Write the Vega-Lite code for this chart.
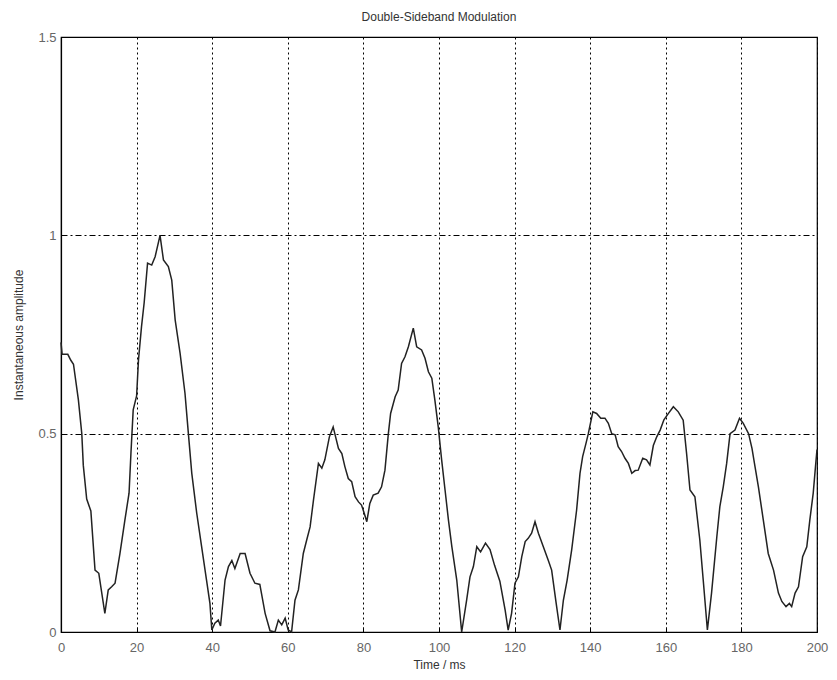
{
  "$schema": "https://vega.github.io/schema/vega-lite/v6.json",
  "autosize": {"type": "none"},
  "padding": {"left": 61, "top": 37, "right": 20, "bottom": 48},
  "width": 756,
  "height": 595,
  "background": "white",
  "title": {"text": "Double-Sideband Modulation", "fontSize": 12, "font": "Liberation Sans", "fontWeight": "normal", "color": "#333", "offset": 7, "anchor": "middle"},
  "config": {
    "view": {"stroke": "black", "strokeWidth": 1.2},
    "axis": {"labelFont": "Liberation Sans", "titleFont": "Liberation Sans", "labelFontSize": 13, "titleFontSize": 12, "titleFontWeight": "normal", "labelColor": "#666", "titleColor": "#333", "domainColor": "black", "domainWidth": 1.2, "tickColor": "black", "gridColor": "black", "gridOpacity": 1, "gridWidth": 1}
  },
  "data": {"values": [
    {"t": 0, "a": 0.73}, {"t": 0.3, "a": 0.70}, {"t": 1.8, "a": 0.70}, {"t": 2.6, "a": 0.685}, {"t": 3.3, "a": 0.675},
    {"t": 4.6, "a": 0.585}, {"t": 5.5, "a": 0.50}, {"t": 5.9, "a": 0.42}, {"t": 6.8, "a": 0.335}, {"t": 7.9, "a": 0.305},
    {"t": 9.0, "a": 0.156}, {"t": 10.0, "a": 0.148}, {"t": 11.6, "a": 0.047}, {"t": 12.5, "a": 0.106}, {"t": 13.4, "a": 0.114},
    {"t": 14.3, "a": 0.123}, {"t": 15.6, "a": 0.198}, {"t": 16.9, "a": 0.282}, {"t": 18.0, "a": 0.35}, {"t": 18.5, "a": 0.45},
    {"t": 19.1, "a": 0.56}, {"t": 20.0, "a": 0.595}, {"t": 20.5, "a": 0.686}, {"t": 21.3, "a": 0.77}, {"t": 22.0, "a": 0.83},
    {"t": 22.9, "a": 0.93}, {"t": 24.0, "a": 0.925}, {"t": 24.9, "a": 0.946}, {"t": 26.2, "a": 1.0}, {"t": 27.1, "a": 0.938},
    {"t": 28.4, "a": 0.921}, {"t": 29.3, "a": 0.887}, {"t": 30.2, "a": 0.787}, {"t": 31.5, "a": 0.703}, {"t": 32.8, "a": 0.602},
    {"t": 33.7, "a": 0.50}, {"t": 34.6, "a": 0.40}, {"t": 35.9, "a": 0.30}, {"t": 37.2, "a": 0.215}, {"t": 38.5, "a": 0.131},
    {"t": 39.4, "a": 0.072}, {"t": 39.9, "a": 0.005}, {"t": 40.7, "a": 0.022}, {"t": 41.6, "a": 0.03}, {"t": 42.2, "a": 0.015},
    {"t": 43.4, "a": 0.131}, {"t": 44.3, "a": 0.165}, {"t": 45.2, "a": 0.18}, {"t": 46.0, "a": 0.16}, {"t": 47.4, "a": 0.198},
    {"t": 48.7, "a": 0.198}, {"t": 50.0, "a": 0.148}, {"t": 51.3, "a": 0.123}, {"t": 52.6, "a": 0.12}, {"t": 54.0, "a": 0.047},
    {"t": 55.3, "a": 0.003}, {"t": 56.6, "a": 0.0}, {"t": 57.5, "a": 0.03}, {"t": 58.4, "a": 0.018}, {"t": 59.3, "a": 0.035},
    {"t": 60.1, "a": 0.005}, {"t": 61.0, "a": 0.0}, {"t": 61.9, "a": 0.08}, {"t": 62.8, "a": 0.106}, {"t": 64.1, "a": 0.198},
    {"t": 65.0, "a": 0.232}, {"t": 65.9, "a": 0.265}, {"t": 66.8, "a": 0.333}, {"t": 68.1, "a": 0.425}, {"t": 69.0, "a": 0.413},
    {"t": 69.8, "a": 0.434}, {"t": 71.0, "a": 0.492}, {"t": 72.0, "a": 0.517}, {"t": 73.4, "a": 0.463}, {"t": 74.3, "a": 0.45},
    {"t": 75.1, "a": 0.417}, {"t": 76.0, "a": 0.387}, {"t": 76.9, "a": 0.379}, {"t": 77.8, "a": 0.341}, {"t": 78.7, "a": 0.328},
    {"t": 79.5, "a": 0.32}, {"t": 80.2, "a": 0.30}, {"t": 80.9, "a": 0.278}, {"t": 81.7, "a": 0.324}, {"t": 82.6, "a": 0.345},
    {"t": 83.9, "a": 0.35}, {"t": 84.8, "a": 0.366}, {"t": 85.7, "a": 0.408}, {"t": 86.6, "a": 0.50}, {"t": 87.2, "a": 0.551},
    {"t": 88.4, "a": 0.593}, {"t": 89.2, "a": 0.61}, {"t": 90.1, "a": 0.677}, {"t": 91.0, "a": 0.694}, {"t": 91.9, "a": 0.719},
    {"t": 93.2, "a": 0.766}, {"t": 94.1, "a": 0.719}, {"t": 95.4, "a": 0.711}, {"t": 96.3, "a": 0.69}, {"t": 97.2, "a": 0.656},
    {"t": 98.1, "a": 0.64}, {"t": 98.9, "a": 0.585}, {"t": 99.8, "a": 0.517}, {"t": 100.7, "a": 0.434}, {"t": 101.6, "a": 0.358},
    {"t": 102.5, "a": 0.282}, {"t": 103.4, "a": 0.215}, {"t": 104.7, "a": 0.131}, {"t": 106.0, "a": 0.0}, {"t": 107.3, "a": 0.08},
    {"t": 108.2, "a": 0.139}, {"t": 109.1, "a": 0.165}, {"t": 110.0, "a": 0.215}, {"t": 111.0, "a": 0.202}, {"t": 112.3, "a": 0.224},
    {"t": 113.5, "a": 0.208}, {"t": 114.7, "a": 0.168}, {"t": 116.1, "a": 0.128}, {"t": 117.5, "a": 0.055}, {"t": 118.3, "a": 0.005},
    {"t": 119.2, "a": 0.047}, {"t": 120.1, "a": 0.123}, {"t": 121.0, "a": 0.139}, {"t": 121.9, "a": 0.19}, {"t": 122.8, "a": 0.228},
    {"t": 123.6, "a": 0.236}, {"t": 124.5, "a": 0.249}, {"t": 125.4, "a": 0.278}, {"t": 126.3, "a": 0.249}, {"t": 127.6, "a": 0.215},
    {"t": 128.9, "a": 0.181}, {"t": 129.8, "a": 0.156}, {"t": 131.0, "a": 0.072}, {"t": 132.0, "a": 0.005}, {"t": 132.9, "a": 0.08},
    {"t": 133.9, "a": 0.131}, {"t": 135.1, "a": 0.207}, {"t": 136.4, "a": 0.307}, {"t": 137.3, "a": 0.40}, {"t": 138.0, "a": 0.442},
    {"t": 138.9, "a": 0.476}, {"t": 139.5, "a": 0.50}, {"t": 140.7, "a": 0.555}, {"t": 141.7, "a": 0.551}, {"t": 142.8, "a": 0.539},
    {"t": 143.9, "a": 0.539}, {"t": 144.8, "a": 0.526}, {"t": 145.7, "a": 0.50}, {"t": 146.6, "a": 0.497}, {"t": 147.4, "a": 0.467},
    {"t": 148.3, "a": 0.455}, {"t": 149.2, "a": 0.438}, {"t": 150.1, "a": 0.425}, {"t": 151.0, "a": 0.40}, {"t": 151.9, "a": 0.407},
    {"t": 152.7, "a": 0.408}, {"t": 153.9, "a": 0.438}, {"t": 154.9, "a": 0.434}, {"t": 155.8, "a": 0.421}, {"t": 156.7, "a": 0.47},
    {"t": 157.6, "a": 0.492}, {"t": 158.5, "a": 0.509}, {"t": 159.5, "a": 0.535}, {"t": 160.7, "a": 0.551}, {"t": 162.0, "a": 0.568},
    {"t": 163.3, "a": 0.555}, {"t": 164.6, "a": 0.534}, {"t": 165.5, "a": 0.45}, {"t": 166.4, "a": 0.358}, {"t": 167.7, "a": 0.341},
    {"t": 169.0, "a": 0.232}, {"t": 169.9, "a": 0.131}, {"t": 171.0, "a": 0.005}, {"t": 172.1, "a": 0.098}, {"t": 173.5, "a": 0.24},
    {"t": 174.3, "a": 0.316}, {"t": 175.2, "a": 0.366}, {"t": 176.1, "a": 0.425}, {"t": 177.0, "a": 0.50}, {"t": 178.3, "a": 0.509},
    {"t": 179.5, "a": 0.539}, {"t": 180.5, "a": 0.526}, {"t": 181.9, "a": 0.50}, {"t": 182.8, "a": 0.463}, {"t": 183.6, "a": 0.417},
    {"t": 184.5, "a": 0.366}, {"t": 185.8, "a": 0.282}, {"t": 187.1, "a": 0.198}, {"t": 188.5, "a": 0.156}, {"t": 189.8, "a": 0.098},
    {"t": 190.7, "a": 0.077}, {"t": 191.8, "a": 0.064}, {"t": 192.7, "a": 0.072}, {"t": 193.3, "a": 0.064}, {"t": 194.2, "a": 0.098},
    {"t": 195.1, "a": 0.114}, {"t": 196.2, "a": 0.19}, {"t": 197.3, "a": 0.215}, {"t": 198.1, "a": 0.282}, {"t": 199.0, "a": 0.35},
    {"t": 199.6, "a": 0.417}, {"t": 200.0, "a": 0.46}
  ]},
  "mark": {"type": "line", "color": "#222", "strokeWidth": 1.5, "interpolate": "linear"},
  "encoding": {
    "x": {"field": "t", "type": "quantitative", "scale": {"domain": [0, 200], "nice": false, "zero": false},
      "axis": {"title": "Time / ms", "values": [0, 20, 40, 60, 80, 100, 120, 140, 160, 180, 200], "tickSize": -5, "labelPadding": 14, "titlePadding": 5, "gridDash": [2, 3], "labelFlush": false}},
    "y": {"field": "a", "type": "quantitative", "scale": {"domain": [0, 1.5], "nice": false},
      "axis": {"title": "Instantaneous amplitude", "values": [0, 0.5, 1, 1.5], "format": "~g", "tickSize": -5, "labelPadding": 10, "titlePadding": 12, "gridDash": [6, 3, 2, 3]}}
  }
}
